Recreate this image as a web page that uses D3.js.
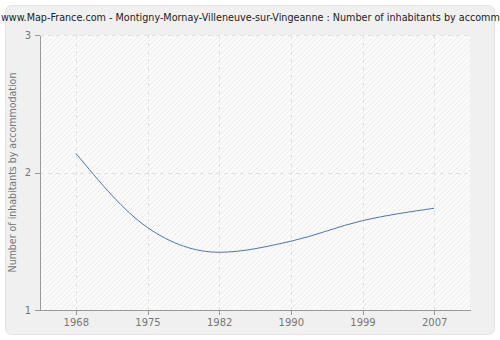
<!DOCTYPE html>
<html>
<head>
<meta charset="utf-8">
<script src="https://cdn.jsdelivr.net/npm/d3@7"></script>
<style>
  html, body { margin: 0; padding: 0; background: #ffffff; }
  svg { display: block; }
</style>
</head>
<body>
<svg id="chart" width="500" height="340"></svg>
<script>
// Census years and average number of inhabitants per dwelling
const years = ["1968", "1975", "1982", "1990", "1999", "2007"];
const inhabitants = [2.14, 1.60, 1.42, 1.50, 1.65, 1.74];
const yTicks = [1, 2, 3];
const title = "www.Map-France.com - Montigny-Mornay-Villeneuve-sur-Vingeanne : Number of inhabitants by accommodation";
const yLabel = "Number of inhabitants by accommodation";

const svg = d3.select("#chart");
const plot = { left: 40, right: 470, top: 35, bottom: 310 };

// Outer rounded panel
svg.append("rect")
  .attr("x", 5.5).attr("y", 5.5)
  .attr("width", 489).attr("height", 329)
  .attr("rx", 6).attr("ry", 6)
  .attr("fill", "#f0f0f0")
  .attr("stroke", "#e4e4e4");

// Diagonal hatch for the plot background
const defs = svg.append("defs");
const pat = defs.append("pattern")
  .attr("id", "hatch")
  .attr("patternUnits", "userSpaceOnUse")
  .attr("width", 5).attr("height", 5);
pat.append("rect").attr("width", 5).attr("height", 5).attr("fill", "#fafafa");
pat.append("path")
  .attr("d", "M-1,1 l2,-2 M0,5 l5,-5 M4,6 l2,-2")
  .attr("stroke", "#ececec").attr("stroke-width", 1);

const x = d3.scalePoint()
  .domain(years)
  .range([plot.left, plot.right])
  .padding(0.5);

const y = d3.scaleLinear()
  .domain([1, 3])
  .range([plot.bottom, plot.top]);

svg.append("rect")
  .attr("x", plot.left).attr("y", plot.top)
  .attr("width", plot.right - plot.left)
  .attr("height", plot.bottom - plot.top)
  .attr("fill", "url(#hatch)");

// Dashed grid
const grid = svg.append("g")
  .attr("stroke", "#e2e2e2")
  .attr("stroke-dasharray", "4,4")
  .attr("shape-rendering", "crispEdges");
grid.selectAll("line.v").data(years).join("line")
  .attr("class", "v")
  .attr("x1", d => Math.round(x(d)) + 0.5).attr("x2", d => Math.round(x(d)) + 0.5)
  .attr("y1", plot.top).attr("y2", plot.bottom);
grid.selectAll("line.h").data(yTicks.slice(1)).join("line")
  .attr("class", "h")
  .attr("x1", plot.left).attr("x2", plot.right)
  .attr("y1", d => Math.round(y(d)) + 0.5).attr("y2", d => Math.round(y(d)) + 0.5);

// Axes
const axisColor = "#999999";
const textColor = "#777777";

const xAxis = svg.append("g")
  .attr("transform", `translate(0,${plot.bottom})`)
  .call(d3.axisBottom(x).tickSize(5).tickSizeOuter(0).tickPadding(4));
const yAxis = svg.append("g")
  .attr("transform", `translate(${plot.left},0)`)
  .call(d3.axisLeft(y).tickValues(yTicks).tickFormat(d3.format("d")).tickSize(5).tickSizeOuter(0).tickPadding(4));

[xAxis, yAxis].forEach(g => {
  g.selectAll("path, line").attr("stroke", axisColor).attr("shape-rendering", "crispEdges");
  g.selectAll("text")
    .attr("fill", textColor)
    .attr("font-family", "DejaVu Sans, Verdana, sans-serif")
    .attr("font-size", 10);
});

// Data line
const line = d3.line()
  .x((d, i) => x(years[i]))
  .y(d => y(d))
  .curve(d3.curveMonotoneX);

svg.append("path")
  .datum(inhabitants)
  .attr("d", line)
  .attr("fill", "none")
  .attr("stroke", "#4a78ad")
  .attr("stroke-width", 1);

// Title (runs past the right edge of the panel)
svg.append("text")
  .attr("x", 1).attr("y", 21)
  .attr("fill", "#222222")
  .attr("font-family", "DejaVu Sans Condensed, DejaVu Sans, sans-serif")
  .attr("font-size", 10.7)
  .text(title);

// Y axis label
svg.append("text")
  .attr("transform", `translate(16,${(plot.top + plot.bottom) / 2}) rotate(-90)`)
  .attr("text-anchor", "middle")
  .attr("fill", textColor)
  .attr("font-family", "DejaVu Sans Condensed, DejaVu Sans, sans-serif")
  .attr("font-size", 10.5)
  .text(yLabel);
</script>
</body>
</html>
